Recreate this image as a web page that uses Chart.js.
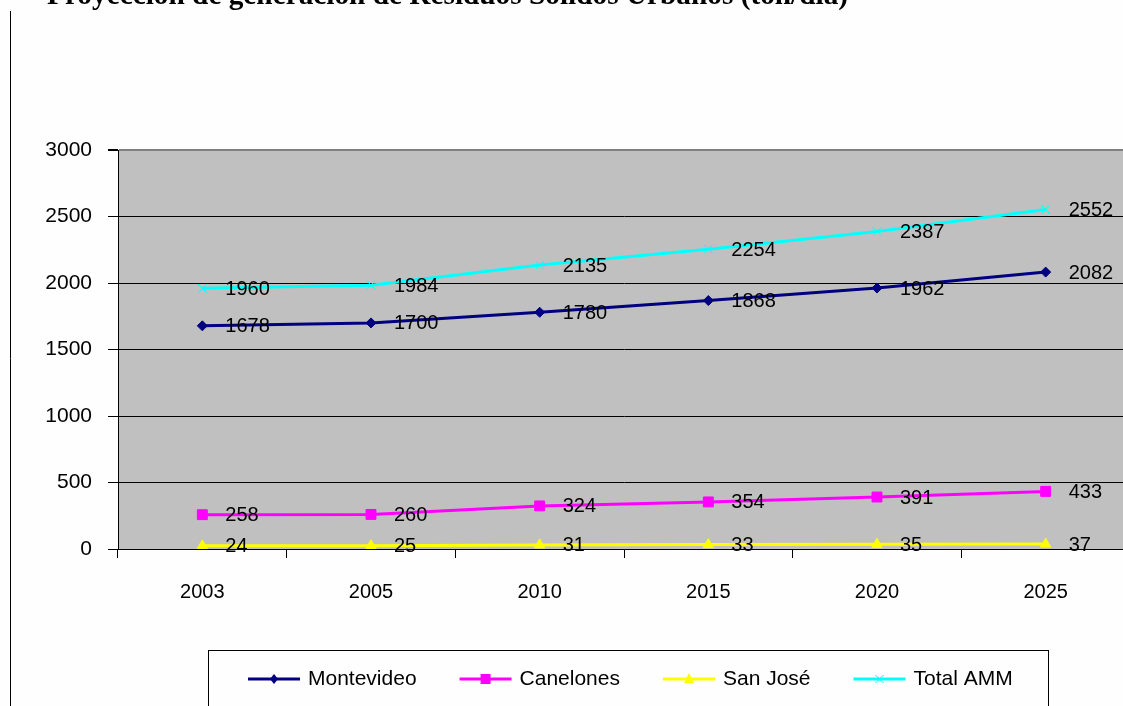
<!DOCTYPE html>
<html>
<head>
<meta charset="utf-8">
<script src="https://cdn.jsdelivr.net/npm/chart.js@4/dist/chart.umd.min.js"></script>
<style>
  html, body { margin: 0; padding: 0; background: #fefefe; overflow: hidden; }
  #wrap { position: absolute; left: 0; top: 0; width: 1160px; height: 706px; }
</style>
</head>
<body>
<div id="wrap"><canvas id="chart" width="1160" height="706"></canvas></div>
<script>
// Proyección de generación de RSU — line chart, Excel-style grey plot area

const TITLE = 'Proyección de generación de Residuos Sólidos Urbanos (ton/día)';
const YEARS = ['2003', '2005', '2010', '2015', '2020', '2025'];
const Y_TICKS = [0, 500, 1000, 1500, 2000, 2500, 3000];

const MONTEVIDEO = [1678, 1700, 1780, 1868, 1962, 2082];
const CANELONES  = [258, 260, 324, 354, 391, 433];
const SAN_JOSE   = [24, 25, 31, 33, 35, 37];
const TOTAL_AMM  = [1960, 1984, 2135, 2254, 2387, 2552];

const SERIES_NAMES = ['Montevideo', 'Canelones', 'San José', 'Total AMM'];

const FONT = '"Liberation Sans", Arial, sans-serif';

// ── plugins ───────────────────────────────────────────────
const plotBg = {
  id: 'plotBg',
  beforeDraw(chart) {
    const { ctx, chartArea: a } = chart;
    ctx.save();
    ctx.fillStyle = '#c0c0c0';
    ctx.fillRect(a.left, a.top, a.right - a.left, a.bottom - a.top);
    ctx.restore();
  },
};

const valueLabels = {
  id: 'valueLabels',
  afterDatasetsDraw(chart) {
    const { ctx } = chart;
    ctx.save();
    ctx.font = '20px ' + FONT;
    ctx.fillStyle = '#000';
    ctx.textBaseline = 'middle';
    ctx.textAlign = 'left';
    chart.data.datasets.forEach((ds, i) => {
      chart.getDatasetMeta(i).data.forEach((pt, j) => {
        ctx.fillText(String(ds.data[j]), pt.x + 23, pt.y + 1);
      });
    });
    ctx.restore();
  },
};

function marker(ctx, style, x, y, color) {
  ctx.save();
  ctx.fillStyle = color;
  ctx.strokeStyle = color;
  ctx.beginPath();
  if (style === 'rectRot') {
    ctx.moveTo(x, y - 5); ctx.lineTo(x + 4, y); ctx.lineTo(x, y + 5); ctx.lineTo(x - 4, y); ctx.closePath(); ctx.fill();
  } else if (style === 'rect') {
    ctx.fillRect(x - 5, y - 5, 10, 10);
  } else if (style === 'triangle') {
    ctx.moveTo(x, y - 6); ctx.lineTo(x + 5, y + 4); ctx.lineTo(x - 5, y + 4); ctx.closePath(); ctx.fill();
  } else {
    ctx.lineWidth = 1;
    ctx.moveTo(x - 4, y - 4); ctx.lineTo(x + 4, y + 4);
    ctx.moveTo(x + 4, y - 4); ctx.lineTo(x - 4, y + 4); ctx.stroke();
  }
  ctx.restore();
}

const frame = {
  id: 'frame',
  afterDraw(chart) {
    const { ctx } = chart;
    ctx.save();
    // left border line of the page
    ctx.strokeStyle = '#000';
    ctx.lineWidth = 1;
    ctx.beginPath(); ctx.moveTo(10.5, 11); ctx.lineTo(10.5, 706); ctx.stroke();

    // title, only its lower part shows
    let size = 24;
    ctx.font = 'bold ' + size + 'px "Liberation Serif", "Times New Roman", serif';
    size = size * 800 / ctx.measureText(TITLE).width;
    ctx.font = 'bold ' + size.toFixed(1) + 'px "Liberation Serif", "Times New Roman", serif';
    ctx.fillStyle = '#000';
    ctx.textBaseline = 'alphabetic';
    ctx.fillText(TITLE, 47, 4);

    // legend box
    ctx.strokeRect(208.5, 650.5, 840, 80);
    ctx.font = '21px ' + FONT;
    ctx.textBaseline = 'middle';
    let x = 248;
    const y = 679;
    chart.data.datasets.forEach(ds => {
      ctx.strokeStyle = ds.borderColor;
      ctx.lineWidth = 3;
      ctx.beginPath(); ctx.moveTo(x, y); ctx.lineTo(x + 52, y); ctx.stroke();
      marker(ctx, ds.pointStyle, x + 26, y, ds.borderColor);
      ctx.fillStyle = '#000';
      ctx.fillText(ds.label, x + 60, y);
      x += 60 + ctx.measureText(ds.label).width + 43;
    });
    ctx.restore();
  },
};

// ── chart ─────────────────────────────────────────────────
const mkSet = (label, data, color, pointStyle, radius, pbw) => ({
  label, data,
  borderColor: color, backgroundColor: color,
  pointBackgroundColor: color, pointBorderColor: color,
  borderWidth: 3, pointStyle, pointRadius: radius, pointBorderWidth: pbw,
  tension: 0,
});

new Chart(document.getElementById('chart').getContext('2d'), {
  type: 'line',
  data: {
    labels: YEARS,
    datasets: [
      mkSet(SERIES_NAMES[0], MONTEVIDEO, '#000080', 'rectRot', 5, 1),
      mkSet(SERIES_NAMES[1], CANELONES, '#ff00ff', 'rect', 7, 1),
      mkSet(SERIES_NAMES[2], SAN_JOSE, '#ffff00', 'triangle', 6, 1),
      mkSet(SERIES_NAMES[3], TOTAL_AMM, '#00ffff', 'crossRot', 6, 1),
    ],
  },
  options: {
    responsive: false,
    animation: false,
    layout: { padding: { top: 150, right: 30, left: 0, bottom: 0 } },
    plugins: { legend: { display: false }, tooltip: { enabled: false } },
    scales: {
      x: {
        offset: true,
        afterFit: s => { s.height = 157; },
        grid: { drawOnChartArea: false, drawTicks: true, tickLength: 9, color: '#000', offset: true },
        border: { color: '#000', width: 1 },
        ticks: { color: '#000', font: { family: FONT, size: 20 }, padding: 22, maxRotation: 0 },
      },
      y: {
        min: 0, max: 3000,
        afterFit: s => { s.width = 118; },
        afterBuildTicks: s => { s.ticks = Y_TICKS.map(v => ({ value: v })); },
        grid: {
          color: c => (c.tick && c.tick.value === 3000 ? '#808080' : '#000'),
          lineWidth: c => (c.tick && c.tick.value === 3000 ? 2 : 1),
          tickColor: '#000', tickLength: 10,
        },
        border: { color: '#000', width: 1 },
        ticks: { color: '#000', font: { family: FONT, size: 21 }, padding: 16, callback: v => String(v) },
      },
    },
  },
  plugins: [plotBg, valueLabels, frame],
});
</script>
</body>
</html>
